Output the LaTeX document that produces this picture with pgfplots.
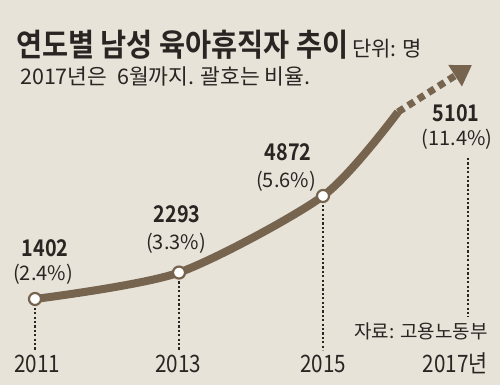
\documentclass[border=0pt]{standalone}
\usepackage{fontspec}
\setmainfont{Noto Sans CJK KR}[BoldFont={Noto Sans CJK KR Bold}]
\newfontfamily\cnd{Noto Sans CJK KR}[FakeStretch=0.86, BoldFont={Noto Sans CJK KR Bold}, BoldFeatures={FakeStretch=0.86}]
\newfontfamily\ttl{Noto Sans CJK KR Bold}[FakeStretch=0.9]
\usepackage{pgfplots}
\pgfplotsset{compat=1.18}
\usetikzlibrary{arrows.meta}
\definecolor{bg}{HTML}{E7E3D9}
\definecolor{ln}{HTML}{76644E}
\definecolor{tx}{HTML}{2A2522}
\newcommand{\fs}[1]{\fontsize{#1}{#1}\selectfont}
\begin{document}
\begin{tikzpicture}
\begin{axis}[name=ax, scale only axis, width=500pt, height=385pt,
  xmin=2010.5139, xmax=2017.4583, ymin=-1496, ymax=11475,
  axis lines=none, clip=false]
\fill[bg] (rel axis cs:0,0) rectangle (rel axis cs:1,1);
% drop lines
\addplot[tx, line width=1.3pt, dash pattern=on 2.2pt off 2.2pt] coordinates {(2011,1402) (2011,-317)};
\addplot[tx, line width=1.3pt, dash pattern=on 2.2pt off 2.2pt] coordinates {(2013,2293) (2013,-317)};
\addplot[tx, line width=1.3pt, dash pattern=on 2.2pt off 2.2pt] coordinates {(2015,4872) (2015,-317)};
\addplot[tx, line width=1.3pt, dash pattern=on 2.2pt off 2.2pt] coordinates {(2017.014,6152) (2017.014,795)};
% trend line
\addplot[ln, line width=8pt, smooth, tension=0.45, line cap=butt] coordinates {(2011,1402) (2013,2293) (2015,4872) (2016.042,7702)};
\addplot[ln, line width=7pt, dash pattern=on 7pt off 5pt, line cap=butt,
  -{Triangle[length=20pt, width=24pt]}] coordinates {(2016.042,7702) (2017.069,9285)};
\addplot[only marks, mark=*, mark size=6pt, mark options={fill=white, draw=ln, line width=2.2pt}] coordinates {(2011,1402) (2013,2293) (2015,4872)};
\end{axis}
\begin{scope}[shift={(ax.north west)}, x=1pt, y=-1pt, every node/.style={inner sep=0pt, text=tx}]
\node[anchor=base west] at (16,57) {\ttl\fs{31.5}연도별 남성 육아휴직자 추이};
\node[anchor=base west] at (352,57) {\fs{21}단위: 명};
\node[anchor=base west] at (20,85) {\fs{21.5}2017년은 \ 6월까지. 괄호는 비율.};
\node[anchor=base] at (45,257) {\cnd\fs{23}\bfseries 1402};
\node[anchor=base] at (43,281) {\fs{20}(2.4\%)};
\node[anchor=base] at (177,223) {\cnd\fs{23}\bfseries 2293};
\node[anchor=base] at (176,250) {\fs{20}(3.3\%)};
\node[anchor=base] at (288,161) {\cnd\fs{23}\bfseries 4872};
\node[anchor=base] at (286,188) {\fs{20}(5.6\%)};
\node[anchor=base] at (456,122) {\cnd\fs{23}\bfseries 5101};
\node[anchor=base] at (457,146) {\fs{20}(11.4\%)};
\node[anchor=base] at (37,372) {\cnd\fs{24}2011};
\node[anchor=base] at (178,372) {\cnd\fs{24}2013};
\node[anchor=base] at (323,372) {\cnd\fs{24}2015};
\node[anchor=base east] at (488,372) {\cnd\fs{24}2017년};
\node[anchor=base east] at (488,338) {\fs{19}자료: 고용노동부};
\end{scope}
\end{tikzpicture}
\end{document}
